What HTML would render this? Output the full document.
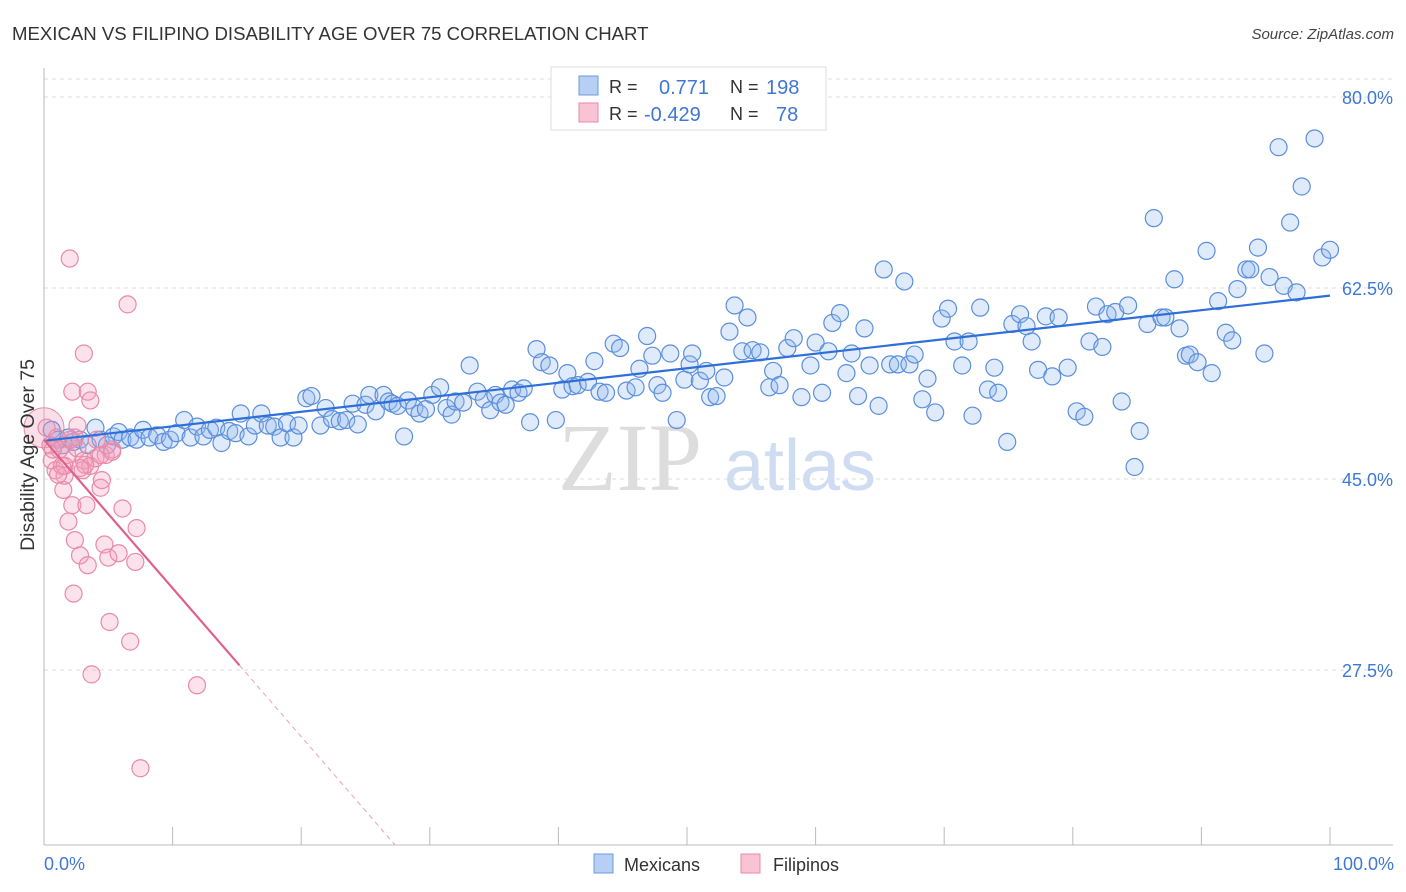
<!DOCTYPE html>
<html><head><meta charset="utf-8">
<style>
body{margin:0;background:#fff;width:1406px;height:892px;overflow:hidden;font-family:"Liberation Sans",sans-serif;}
svg{display:block}
</style></head>
<body>
<svg id="chart" width="1406" height="892">
<text x="12" y="40" font-size="18.6" fill="#333">MEXICAN VS FILIPINO DISABILITY AGE OVER 75 CORRELATION CHART</text>
<text x="1394" y="39" font-size="15" fill="#444" font-style="italic" text-anchor="end">Source: ZipAtlas.com</text>
<g id="grid"></g>
<text x="630" y="490" font-size="96" fill="#ddd" font-family="Liberation Serif,serif" text-anchor="middle">ZIP</text>
<text x="800" y="490" font-size="72" fill="#cfdcf2" text-anchor="middle">atlas</text>
<g id="axes"></g>
<g id="pts"></g>
<g id="trends"></g>
<text x="34" y="455" font-size="19.5" fill="#333" text-anchor="middle" transform="rotate(-90 34 455)">Disability Age Over 75</text>
<text x="44" y="870" font-size="18" fill="#3f77d4">0.0%</text>
<text x="1394" y="870" font-size="18" fill="#3f77d4" text-anchor="end">100.0%</text>
<g>
<rect x="551" y="67" width="275" height="63" fill="#fff" stroke="#ddd"/>
<rect x="579" y="76" width="19" height="19" fill="#b7cff3" stroke="#6a9be0"/>
<rect x="579" y="103" width="19" height="19" fill="#f8c4d3" stroke="#e88aa8"/>
<text x="609" y="93" font-size="18" fill="#333">R =</text><text x="659" y="94" font-size="20" fill="#3f77d4">0.771</text>
<text x="730" y="93" font-size="18" fill="#333">N =</text><text x="766" y="94" font-size="20" fill="#3f77d4">198</text>
<text x="609" y="120" font-size="18" fill="#333">R =</text><text x="644" y="121" font-size="20" fill="#3f77d4">-0.429</text>
<text x="730" y="120" font-size="18" fill="#333">N =</text><text x="776" y="121" font-size="20" fill="#3f77d4">78</text>
</g>
<g>
<rect x="594" y="854" width="19" height="19" fill="#b7cff3" stroke="#6a9be0"/>
<text x="624" y="871" font-size="18" fill="#333">Mexicans</text>
<rect x="741" y="854" width="19" height="19" fill="#f8c4d3" stroke="#e88aa8"/>
<text x="773" y="871" font-size="18" fill="#333">Filipinos</text>
</g>
</svg>
<script>
const yTicks=[80,62.5,45,27.5];
const yTickLabels=["80.0%","62.5%","45.0%","27.5%"];
const xTicks=[0,10,20,30,40,50,60,70,80,90,100];
const blueX=[0.6,1.1,1.5,1.9,2.3,2.8,3.4,4.0,4.4,4.9,5.4,5.8,6.1,6.7,7.2,7.7,8.2,8.8,9.3,9.8,10.3,10.9,11.4,11.9,12.4,12.9,13.4,13.8,14.4,14.9,15.3,15.9,16.4,16.9,17.4,17.9,18.4,18.9,19.4,19.8,20.4,20.8,21.5,21.9,22.4,23.0,23.5,24.0,24.4,25.0,25.3,25.8,26.4,26.8,27.1,27.5,28.0,28.3,28.8,29.2,29.7,30.2,30.8,31.3,31.7,32.0,32.6,33.1,33.7,34.2,34.7,35.1,35.5,35.9,36.4,36.9,37.3,37.8,38.3,38.7,39.3,39.8,40.3,40.7,41.1,41.5,42.3,42.8,43.2,43.7,44.3,44.8,45.3,46.0,46.3,46.9,47.3,47.7,48.1,48.7,49.2,49.8,50.2,50.4,51.0,51.5,51.8,52.3,52.9,53.3,53.7,54.3,54.7,55.1,55.7,56.4,56.7,57.2,57.8,58.3,58.9,59.6,60.0,60.5,61.0,61.3,61.9,62.4,62.8,63.3,63.8,64.2,64.9,65.3,65.8,66.4,66.9,67.3,67.7,68.3,68.7,69.3,69.8,70.3,70.8,71.4,71.9,72.2,72.8,73.4,73.9,74.2,74.9,75.3,75.9,76.4,76.8,77.3,77.9,78.4,78.9,79.6,80.3,80.9,81.3,81.8,82.3,82.7,83.3,83.8,84.3,84.8,85.2,85.8,86.3,86.9,87.2,87.9,88.3,88.8,89.1,89.7,90.4,90.8,91.3,91.9,92.4,92.8,93.5,93.8,94.4,94.9,95.3,96.0,96.4,96.9,97.4,97.8,98.8,99.4,100.0];
const blueY=[49.5,48.6,48.1,48.8,48.4,48.6,48.1,49.7,48.6,48.1,48.9,49.3,48.6,48.8,48.6,49.5,48.8,49.0,48.4,48.6,49.2,50.4,48.8,49.8,48.9,49.5,49.7,48.3,49.4,49.2,51.0,48.9,49.9,51.0,49.9,49.8,48.8,50.1,48.8,49.9,52.4,52.6,49.9,51.5,50.5,50.3,50.4,51.9,50.0,51.8,52.7,51.2,52.7,52.1,51.9,51.7,48.9,52.2,51.5,51.0,51.4,52.7,53.4,51.5,50.9,52.1,52.0,55.4,53.0,52.3,51.3,52.7,52.0,51.8,53.2,52.9,53.3,50.2,56.9,55.7,55.4,50.4,53.2,54.7,53.5,53.6,53.9,55.8,53.0,52.9,57.4,57.0,53.1,53.4,55.1,58.1,56.3,53.6,52.9,56.5,50.4,54.1,55.5,56.5,54.0,54.9,52.5,52.6,54.3,58.5,60.9,56.7,59.8,56.8,56.6,53.4,54.9,53.6,57.0,57.9,52.5,55.4,57.5,52.9,56.7,59.3,60.2,54.7,56.5,52.6,58.8,55.4,51.7,64.2,55.5,55.5,63.1,55.5,56.4,52.3,54.2,51.1,59.7,60.6,57.6,55.4,57.6,50.8,60.7,53.2,55.2,52.9,48.4,59.2,60.1,59.0,57.6,55.0,59.9,54.4,59.8,55.2,51.2,50.7,57.6,60.8,57.1,60.1,60.3,52.1,60.9,46.1,49.4,59.2,68.9,59.8,59.8,63.3,58.8,56.3,56.4,55.7,65.9,54.7,61.3,58.4,57.7,62.4,64.2,64.2,66.2,56.5,63.5,75.4,62.7,68.5,62.1,71.8,76.2,65.3,66.0];
const pinkX=[0.2,0.5,0.6,0.9,1.0,1.2,1.4,1.5,1.6,1.8,1.9,2.0,2.2,2.3,2.4,2.6,2.6,2.8,3.0,3.1,3.3,3.4,3.6,3.7,4.0,4.1,4.4,4.5,4.7,4.8,5.0,5.1,5.3,5.8,6.1,6.5,6.7,7.1,7.2,7.5,11.9,3.1,2.2,3.4,3.6,2.4,1.6,1.1,0.7,3.2,2.8,2.0,4.4,5.3];
const pinkY=[49.7,48.1,46.7,45.8,48.8,47.7,46.2,44.0,45.3,47.2,41.1,65.2,42.6,34.5,39.4,47.8,49.9,38.0,45.8,46.7,42.6,37.1,46.2,27.1,46.9,48.6,44.2,44.9,39.0,47.2,37.8,31.9,47.7,38.2,42.3,61.0,30.1,37.4,40.5,18.5,26.1,56.5,53.0,53.0,52.2,48.8,46.2,45.4,47.7,46.3,46.0,48.6,47.2,47.5];
const blueTrend=[48.5,61.8];
const pinkTrendStart=48.6,pinkTrendSlope=-1.36;

const NS="http://www.w3.org/2000/svg";
const L=44,R=1330,B=845;
const sx=v=>L+(R-L)*v/100;
const sy=v=>479-(v-45)*191/17.5;
function mk(tag,attrs,parent){const e=document.createElementNS(NS,tag);for(const k in attrs)e.setAttribute(k,attrs[k]);parent.appendChild(e);return e;}
const grid=document.getElementById('grid'),axes=document.getElementById('axes'),pts=document.getElementById('pts'),tr=document.getElementById('trends');
mk('line',{x1:L,x2:1393,y1:79,y2:79,stroke:'#ddd','stroke-dasharray':'4 4'},grid);
yTicks.forEach((t,i)=>{
 const g=mk('line',{x1:L,x2:1393,y1:sy(t),y2:sy(t),stroke:'#ddd','stroke-dasharray':'4 4'},grid);
 
 
 const tx=mk('text',{x:1393,y:sy(t)+7,'font-size':18,fill:'#3f77d4','text-anchor':'end'},grid);
 tx.textContent=yTickLabels[i];
 
 
});
mk('line',{x1:L,x2:L,y1:68,y2:B,stroke:'#bbb'},axes);
mk('line',{x1:L,x2:1393,y1:B,y2:B,stroke:'#bbb'},axes);
xTicks.forEach(t=>{
 const tk=mk('line',{x1:sx(t),x2:sx(t),y1:827,y2:B,stroke:'#bbb'},axes);
 
 
});
const big=mk('circle',{cx:sx(0),cy:sy(49.7),r:20,fill:'rgba(240,150,180,0.3)',stroke:'#e88aa8','stroke-width':1},pts);


blueX.forEach((x,i)=>{
 const c=mk('circle',{cx:sx(x),cy:sy(blueY[i]),r:8.5,fill:'rgba(150,185,240,0.3)',stroke:'#5b8fdc','stroke-width':1.2},pts);
 
 
});
pinkX.forEach((x,i)=>{
 const c=mk('circle',{cx:sx(x),cy:sy(pinkY[i]),r:8.5,fill:'rgba(245,160,190,0.3)',stroke:'#e88aa8','stroke-width':1.2},pts);
 
 
});
const bl=mk('line',{x1:sx(0),y1:sy(blueTrend[0]),x2:sx(100),y2:sy(blueTrend[1]),stroke:'#2e6fd8','stroke-width':2.2},tr);


const xs=15.2, xe=(11.5-pinkTrendStart)/pinkTrendSlope;
const pl=mk('line',{x1:sx(0),y1:sy(pinkTrendStart),x2:sx(xs),y2:sy(pinkTrendStart+pinkTrendSlope*xs),stroke:'#e0608c','stroke-width':2.2},tr);


const pd=mk('line',{x1:sx(xs),y1:sy(pinkTrendStart+pinkTrendSlope*xs),x2:sx(xe),y2:sy(11.5),stroke:'#e8a0b8','stroke-width':1,'stroke-dasharray':'5 4'},tr);


</script>
</body></html>
